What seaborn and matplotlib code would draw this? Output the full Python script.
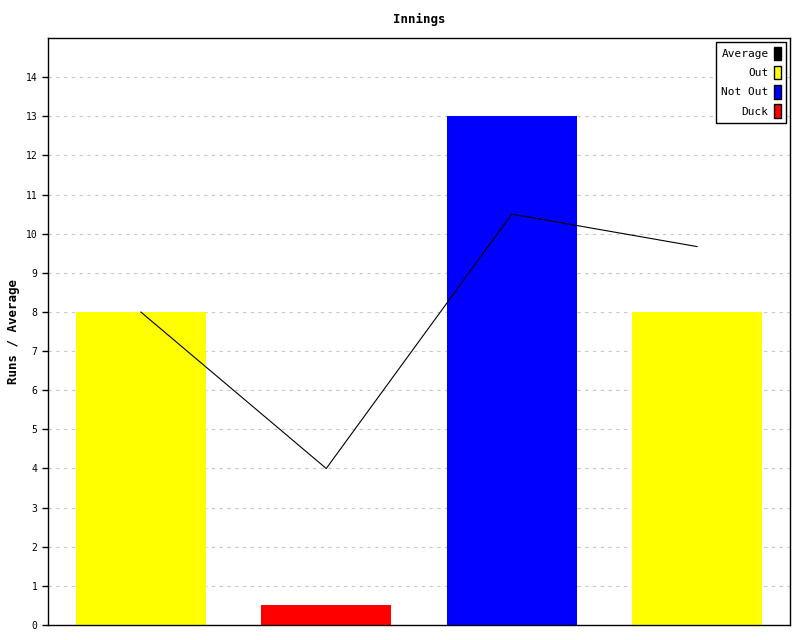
import matplotlib.pyplot as plt
import matplotlib.patches as mpatches
import pandas as pd
import seaborn as sns

# Innings data.
innings = ["1", "2", "3", "4"]
runs = [8, 0.5, 13, 8]
status = ["Out", "Duck", "Not Out", "Out"]
average = [8, 4, 10.5, 9.67]

status_colors = {"Out": "#ffff00", "Duck": "#ff0000", "Not Out": "#0000ff"}
legend_labels = ["Average", "Out", "Not Out", "Duck"]
legend_colors = ["#000000", "#ffff00", "#0000ff", "#ff0000"]

df = pd.DataFrame({"innings": innings, "runs": runs, "status": status, "average": average})

sns.set_style("white")
plt.rcParams["font.family"] = ["DejaVu Sans Mono"]
plt.rcParams["text.color"] = "black"
plt.rcParams["axes.labelcolor"] = "black"
plt.rcParams["ytick.color"] = "black"

fig = plt.figure(figsize=(8, 6.4), dpi=100)
ax = fig.add_axes([0.06, 0.0234, 0.9275, 0.9172])

sns.barplot(
    data=df, x="innings", y="runs", hue="status", palette=status_colors,
    dodge=False, width=0.7, legend=False, ax=ax, saturation=1, linewidth=0,
)
ax.plot(range(len(innings)), df["average"], color="black", linewidth=0.8)

ax.set_xlim(-0.5, 3.5)
ax.set_ylim(0, 15)
ax.set_yticks(range(0, 15))
ax.tick_params(axis="y", labelsize=7, length=4, width=1, direction="out", left=True)
ax.set_xticks([])
ax.set_xlabel("")
ax.set_ylabel("Runs / Average", fontsize=9, fontweight="bold")
ax.set_title("Innings", fontsize=9, fontweight="bold", pad=11)
ax.yaxis.grid(True, linestyle=(0, (3, 4)), color="#c8c8c8", linewidth=0.8)
ax.set_axisbelow(True)
for s in ax.spines.values():
    s.set_color("black")
    s.set_linewidth(1)

handles = [mpatches.Patch(facecolor=c, edgecolor="black") for c in legend_colors]
ax.legend(
    handles, legend_labels, loc="upper right", markerfirst=False, fontsize=8,
    fancybox=False, edgecolor="black", framealpha=1, handlelength=0.6,
    handleheight=1.5, handletextpad=0.5, labelspacing=0.5, borderpad=0.45,
    borderaxespad=0, bbox_to_anchor=(0.9945, 0.9935),
)

fig.savefig("out.png", dpi=100)
